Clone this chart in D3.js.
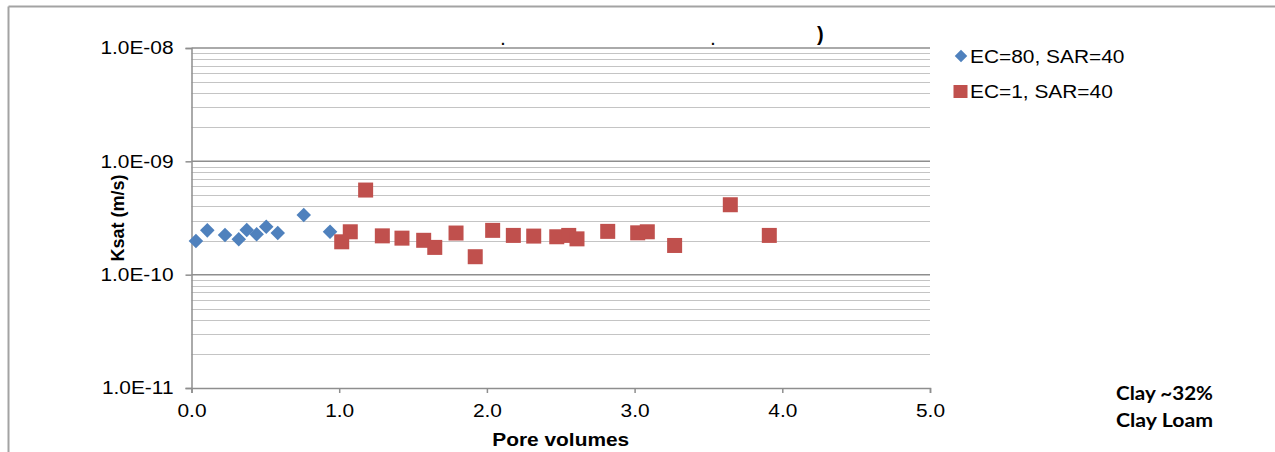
<html>
    <head>
        <title>ksat-pore-volumes</title>
        <script src="https://d3js.org/d3.v7.min.js"></script>
        <script>
            // EC=80, SAR=40 (blue diamonds)
            const ec80X = [0.03, 0.107, 0.227, 0.32, 0.374, 0.441, 0.506, 0.584, 0.76, 0.938];
            const ec80Y = [1.98e-10, 2.46e-10, 2.24e-10, 2.05e-10, 2.48e-10, 2.27e-10, 2.65e-10, 2.33e-10, 3.36e-10, 2.39e-10];

            // EC=1, SAR=40 (red squares)
            const ec1X = [1.017, 1.075, 1.179, 1.292, 1.425, 1.572, 1.647, 1.791, 1.921, 2.039, 2.179,
                          2.317, 2.473, 2.554, 2.610, 2.818, 3.021, 3.086, 3.271, 3.648, 3.912];
            const ec1Y = [1.95e-10, 2.39e-10, 5.58e-10, 2.20e-10, 2.10e-10, 2.01e-10, 1.74e-10, 2.33e-10, 1.44e-10, 2.46e-10, 2.22e-10,
                          2.19e-10, 2.16e-10, 2.22e-10, 2.07e-10, 2.41e-10, 2.34e-10, 2.39e-10, 1.81e-10, 4.14e-10, 2.22e-10];

            const xTicks = [0, 1, 2, 3, 4, 5];
            const yTicks = [1e-11, 1e-10, 1e-9, 1e-8];
            const seriesNames = ["EC=80, SAR=40", "EC=1, SAR=40"];
            const noteLines = ["Clay ~32%", "Clay Loam"];

            document.addEventListener('DOMContentLoaded', function(){
                const w = 1275;
                const h = 452;
                const stretch = 1.16; // labels in the picture are drawn a bit wide

                const svg = d3.select("body")
                    .append("svg")
                    .attr("width", w)
                    .attr("height", h);

                // widen horizontal text to match the source
                function widen(sel, f) {
                    sel.each(function(){
                        const len = this.getComputedTextLength();
                        d3.select(this).attr("textLength", len * f).attr("lengthAdjust", "spacingAndGlyphs");
                    });
                }

                // outer frame (only top and left edges show)
                svg.append("line").attr("x1", 8.5).attr("x2", w).attr("y1", 6.5).attr("y2", 6.5)
                    .attr("stroke", "#a3a3a3").attr("stroke-width", 2);
                svg.append("line").attr("x1", 8.5).attr("x2", 8.5).attr("y1", 6.5).attr("y2", h)
                    .attr("stroke", "#a3a3a3").attr("stroke-width", 2);

                const xScale = d3.scaleLinear()
                    .domain([0, 5])
                    .range([191.5, 930]);
                const yScale = d3.scaleLog()
                    .domain([1e-11, 1e-8])
                    .range([388, 48]);

                // minor gridlines 2..9 per decade
                const minor = [];
                yTicks.slice(0, -1).forEach(d => {
                    for (let k = 2; k <= 9; k++) minor.push(d * k);
                });
                svg.append("g").selectAll("line")
                    .data(minor)
                    .enter()
                    .append("line")
                    .attr("x1", xScale(0)).attr("x2", xScale(5))
                    .attr("y1", d => Math.round(yScale(d)) + 0.5)
                    .attr("y2", d => Math.round(yScale(d)) + 0.5)
                    .attr("stroke", "#c4c4c4")
                    .attr("stroke-width", 1.2);

                svg.append("g").selectAll("line")
                    .data(yTicks.slice(1))
                    .enter()
                    .append("line")
                    .attr("x1", xScale(0)).attr("x2", xScale(5))
                    .attr("y1", d => yScale(d))
                    .attr("y2", d => yScale(d))
                    .attr("stroke", "#8e8e8e")
                    .attr("stroke-width", 1.5);

                // y axis
                const yAxis = d3.axisLeft(yScale)
                    .tickValues(yTicks)
                    .tickSize(6)
                    .tickPadding(12)
                    .tickFormat(d => "1.0E-" + String(Math.round(-Math.log10(d))).padStart(2, "0"));
                const gy = svg.append("g")
                    .attr("id", "y-axis")
                    .attr("transform", "translate(" + xScale(0) + ",0)")
                    .call(yAxis);
                gy.select(".domain").attr("stroke", "#8e8e8e").attr("stroke-width", 1.5);
                gy.selectAll(".tick line").attr("stroke", "#8e8e8e").attr("stroke-width", 1.5);
                gy.selectAll("text")
                    .attr("font-family", "'Liberation Sans', Arial, sans-serif")
                    .attr("font-size", 18)
                    .attr("fill", "#000")
                    .call(widen, stretch);

                // x axis
                const xAxis = d3.axisBottom(xScale)
                    .tickValues(xTicks)
                    .tickSize(5)
                    .tickPadding(11)
                    .tickFormat(d3.format(".1f"));
                const gx = svg.append("g")
                    .attr("id", "x-axis")
                    .attr("transform", "translate(0," + yScale(1e-11) + ")")
                    .call(xAxis);
                gx.select(".domain").attr("stroke", "#8e8e8e").attr("stroke-width", 1.5);
                gx.selectAll(".tick line").attr("stroke", "#8e8e8e").attr("stroke-width", 1.5);
                gx.selectAll("text")
                    .attr("font-family", "'Liberation Sans', Arial, sans-serif")
                    .attr("font-size", 18)
                    .attr("fill", "#000")
                    .call(widen, stretch);

                // points
                const ec80 = ec80X.map((x, i) => ({x: x, y: ec80Y[i]}));
                const ec1 = ec1X.map((x, i) => ({x: x, y: ec1Y[i]}));

                svg.append("g").selectAll("path")
                    .data(ec80)
                    .enter()
                    .append("path")
                    .attr("d", d3.symbol().type(d3.symbolDiamond2).size(135))
                    .attr("transform", d => "translate(" + xScale(d.x) + "," + yScale(d.y) + ")")
                    .attr("fill", "#4f81bd");

                svg.append("g").selectAll("rect")
                    .data(ec1)
                    .enter()
                    .append("rect")
                    .attr("x", d => xScale(d.x) - 7.5)
                    .attr("y", d => yScale(d.y) - 7.5)
                    .attr("width", 15)
                    .attr("height", 15)
                    .attr("fill", "#c0504d");

                // axis titles
                svg.append("text")
                    .attr("x", (xScale(0) + xScale(5)) / 2)
                    .attr("y", 446)
                    .attr("text-anchor", "middle")
                    .attr("font-family", "'Liberation Sans', Arial, sans-serif")
                    .attr("font-weight", "bold")
                    .attr("font-size", 18)
                    .text("Pore volumes")
                    .call(widen, stretch);

                svg.append("text")
                    .attr("transform", "translate(124," + yScale(Math.sqrt(1e-11 * 1e-8)) + ") rotate(-90)")
                    .attr("text-anchor", "middle")
                    .attr("font-family", "'Liberation Sans', Arial, sans-serif")
                    .attr("font-weight", "bold")
                    .attr("font-size", 18)
                    .text("Ksat (m/s)");

                // legend
                const legend = svg.append("g").attr("transform", "translate(961,56)");
                legend.append("path")
                    .attr("d", d3.symbol().type(d3.symbolDiamond2).size(100))
                    .attr("fill", "#4f81bd");
                legend.append("rect")
                    .attr("x", -7.5).attr("y", 29).attr("width", 14).attr("height", 13)
                    .attr("fill", "#c0504d");
                legend.selectAll("text")
                    .data(seriesNames)
                    .enter()
                    .append("text")
                    .attr("x", 9)
                    .attr("y", (d, i) => 7 + i * 35)
                    .attr("font-family", "'Liberation Sans', Arial, sans-serif")
                    .attr("font-size", 18)
                    .text(d => d)
                    .call(widen, stretch);

                // note
                svg.append("g").selectAll("text")
                    .data(noteLines)
                    .enter()
                    .append("text")
                    .attr("x", 1116)
                    .attr("y", (d, i) => 400 + i * 27)
                    .attr("font-family", "Lato, 'Open Sans', sans-serif")
                    .attr("font-weight", "bold")
                    .attr("font-size", 18)
                    .attr("textLength", 97)
                    .attr("lengthAdjust", "spacingAndGlyphs")
                    .text(d => d);

                // leftovers of a clipped title
                const bits = [[501, 45, "."], [711, 45, "."], [817, 41, ")"]];
                svg.append("g").selectAll("text")
                    .data(bits)
                    .enter()
                    .append("text")
                    .attr("x", d => d[0])
                    .attr("y", d => d[1])
                    .attr("font-family", "'Liberation Sans', Arial, sans-serif")
                    .attr("font-weight", "bold")
                    .attr("font-size", d => d[2] === ")" ? 20 : 14)
                    .text(d => d[2]);
            });
        </script>
        <style>
            body {
                margin: 0;
                background: #fff;
            }
        </style>
    </head>
    <body>
    </body>
</html>
